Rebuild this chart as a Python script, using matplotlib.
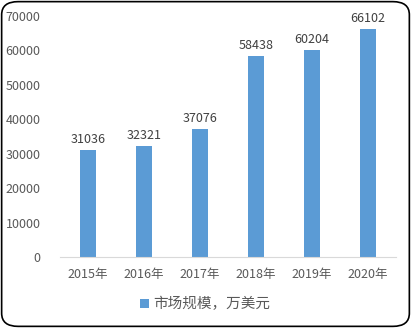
import matplotlib.pyplot as plt
from matplotlib.patches import FancyBboxPatch

plt.rcParams['font.family'] = ['Noto Sans CJK SC', 'DejaVu Sans']

years = ["2015年", "2016年", "2017年", "2018年", "2019年", "2020年"]
market = [31036, 32321, 37076, 58438, 60204, 66102]
series_name = "市场规模，万美元"

fig = plt.figure(figsize=(4.11, 3.28), dpi=100)
ax = fig.add_axes([0.146, 0.2165, 0.8175, 0.7345])

bars = ax.bar(years, market, width=0.3, color="#5B9BD5", label=series_name)
for b, v in zip(bars, market):
    ax.text(b.get_x() + b.get_width() / 2, v + 1200, str(v), ha="center", va="bottom",
            fontsize=9, color="#404040")

ax.set_ylim(0, 70000)
ax.set_xlim(-0.5, 5.5)
ax.set_yticks(range(0, 70001, 10000))
ax.tick_params(length=0, labelsize=9, colors="#595959")
ax.tick_params(axis="x", pad=8)
ax.tick_params(axis="y", pad=14)
for s in ["top", "right", "left"]:
    ax.spines[s].set_visible(False)
ax.spines["bottom"].set_color("#D9D9D9")

fig.legend(loc="center", bbox_to_anchor=(0.5, 0.072), frameon=False, fontsize=10.5,
           handlelength=0.6, handleheight=0.6, handletextpad=0.3, labelcolor="#595959")

border = FancyBboxPatch((0.004, 0.005), 0.992, 0.99, boxstyle="round,pad=0,rounding_size=0.04",
                        transform=fig.transFigure, fill=False, edgecolor="black", linewidth=1.2)
fig.patches.append(border)

fig.savefig("out.png", dpi=100)
